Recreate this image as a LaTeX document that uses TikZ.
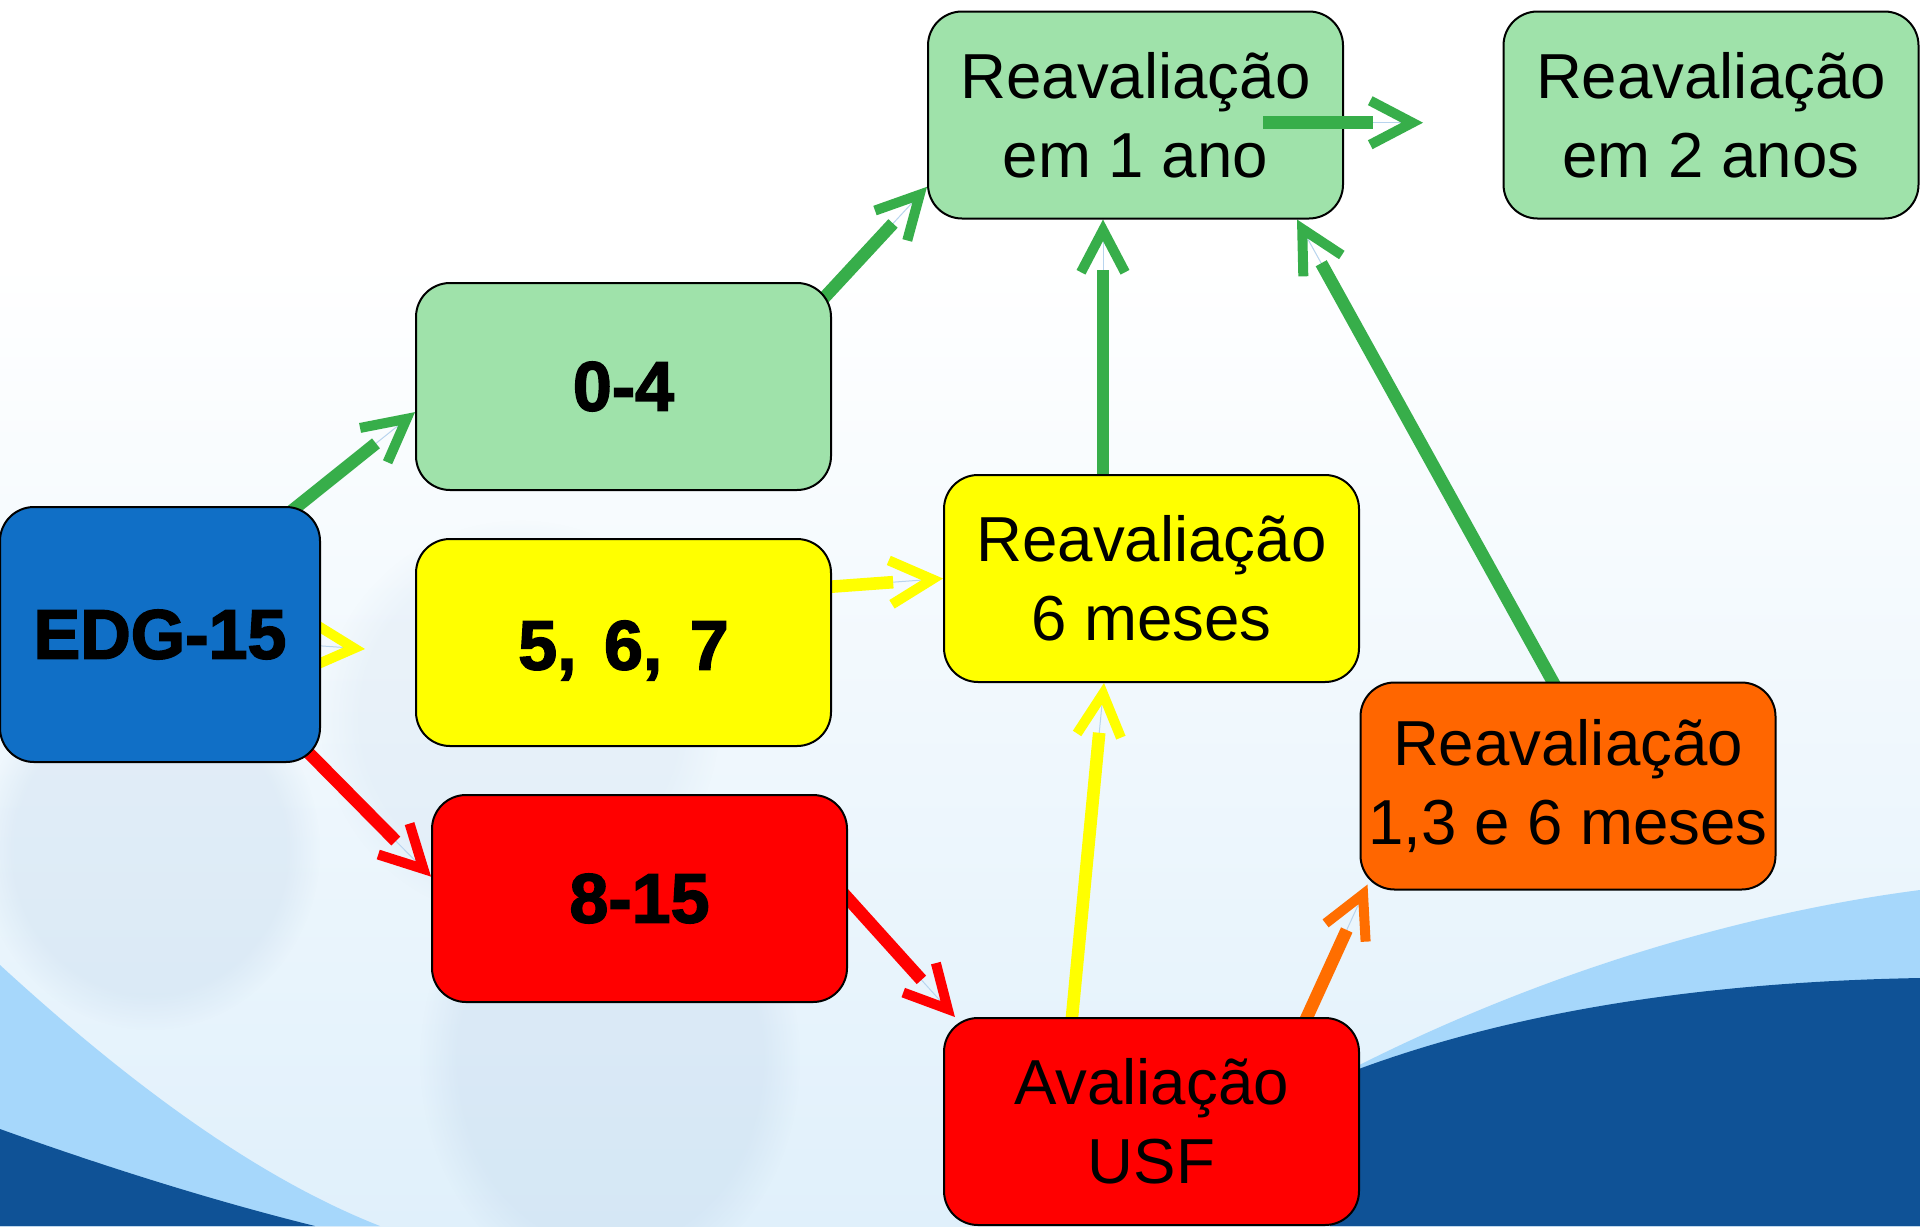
\documentclass[tikz,border=0pt]{standalone}
\usepackage{fontspec}
\setmainfont{Liberation Sans}
\newfontfamily\heavyfont[BoldFeatures={FakeBold=2.2}]{Liberation Sans}
\usetikzlibrary{arrows.meta,fadings}
\pgfdeclarelayer{bgimg}
\pgfdeclarelayer{conns}
\pgfsetlayers{bgimg,conns,main}
\definecolor{boxgreen}{RGB}{159,226,170}
\definecolor{boxblue}{RGB}{16,111,198}
\definecolor{boxyellow}{RGB}{255,255,0}
\definecolor{boxred}{RGB}{255,0,0}
\definecolor{boxorange}{RGB}{255,102,0}
\definecolor{agreen}{RGB}{55,174,74}
\definecolor{ayellow}{RGB}{255,255,0}
\definecolor{ared}{RGB}{255,0,0}
\definecolor{aorange}{RGB}{255,110,0}
\definecolor{thinblue}{RGB}{184,212,238}
\definecolor{bgblue}{RGB}{224,240,251}
\definecolor{wavelight}{RGB}{166,215,251}
\definecolor{wavedark}{RGB}{15,82,150}
\definecolor{glass}{RGB}{170,196,224}
\begin{document}
\begin{tikzpicture}[x=0.5pt,y=-0.5pt,
  box/.style={draw=black, line width=1pt, rounded corners=17pt,
    minimum width=207.5pt, minimum height=103.5pt, inner sep=0pt,
    align=center, font=\fontsize{31.8}{39.5}\selectfont},
  numbox/.style={box, font=\fontsize{35}{42}\heavyfont\bfseries},
  conn/.style={line width=6.3pt, draw=#1, line cap=butt, shorten >=25pt,
    preaction={draw=thinblue, line width=0.5pt, shorten >=0pt, shorten <=0pt,
      -{Straight Barb[length=21pt,width=22pt,line width=5pt,color=#1]}}}]
\useasboundingbox (0,0) rectangle (1920,1226);
\begin{pgfonlayer}{bgimg}
  \fill[white] (0,0) rectangle (1920,1226);
  \shade[top color=white, bottom color=bgblue] (0,260) rectangle (1920,1226);
  \fill[glass, opacity=0.2, path fading=circle with fuzzy edge 20 percent] (150,850) ellipse (170 and 180);
  \fill[glass, opacity=0.2, path fading=circle with fuzzy edge 20 percent] (610,1060) ellipse (190 and 230);
  \fill[glass, opacity=0.12, path fading=circle with fuzzy edge 20 percent] (520,720) ellipse (200 and 200);
  \fill[wavelight] (0,965) .. controls (120,1075) and (250,1175) .. (380,1226) -- (0,1226) -- cycle;
  \fill[wavedark] (0,1129) .. controls (100,1165) and (210,1200) .. (315,1226) -- (0,1226) -- cycle;
  \fill[wavelight] (1330,1080) .. controls (1540,970) and (1750,912) .. (1920,890) -- (1920,1226) -- (1330,1226) -- cycle;
  \fill[wavedark] (1330,1080) .. controls (1500,1012) and (1700,982) .. (1920,978) -- (1920,1226) -- (1330,1226) -- cycle;
\end{pgfonlayer}

\node[box, fill=boxgreen] (r1) at (1135.5,115) {Reavaliação\\em 1 ano};
\node[box, fill=boxgreen] (r2) at (1711,115) {Reavaliação\\em 2 anos};
\node[numbox, fill=boxgreen] (z04) at (623.5,386.5) {0-4};
\node[numbox, fill=boxblue, minimum width=160pt, minimum height=127.5pt] (edg) at (160,634.5) {EDG-15};
\node[numbox, fill=boxyellow] (y567) at (623.5,642.5) {\raisebox{-4pt}[\height][\depth]{5,\hspace{4pt} 6,\hspace{4pt} 7}};
\node[numbox, fill=boxred] (r815) at (639.5,898.5) {8-15};
\node[box, fill=boxyellow] (r6) at (1151.5,578.5) {Reavaliação\\6 meses};
\node[box, fill=boxorange] (r136) at (1568,786) {Reavaliação\\1,3 e 6 meses};
\node[box, fill=boxred] (usf) at (1151.5,1121.5) {Avaliação\\USF};

\coordinate (ytip) at (365,649);
\coordinate (a1) at (1263,122.7);
\coordinate (a2) at (1423,122.7);
\coordinate (xl) at (1103,0);

\begin{pgfonlayer}{conns}
  \draw[conn=agreen, shorten <=-20pt] (edg.43) -- (z04.187);
  \draw[conn=ayellow] (edg.center) -- (ytip);
  \draw[conn=ared, shorten <=-20pt] (edg.-39) -- (r815.174.4);
  \draw[conn=ared, shorten <=-10pt] (r815.east) -- (usf.152);
  \draw[conn=ayellow, shorten <=-10pt] (y567.15.5) -- (r6.west);
  \draw[conn=agreen, shorten <=-20pt] (z04.25.7) -- (r1.199.1);
  \draw[conn=agreen, shorten <=-10pt] (r6.north -| xl) -- (r1.south -| xl);
  \draw[conn=agreen, shorten <=-10pt] ([xshift=-7.65pt]r136.north) -- ([xshift=80.75pt]r1.south);
  \draw[conn=ayellow, shorten <=-10pt] ([xshift=-39.75pt]usf.north) -- ([xshift=-23.75pt]r6.south);
  \draw[conn=aorange, shorten <=-10pt] ([xshift=77.75pt]usf.north) -- ([xshift=4pt,yshift=3pt]r136.south west);
\end{pgfonlayer}
\draw[conn=agreen] (a1) -- (a2);
\end{tikzpicture}
\end{document}
